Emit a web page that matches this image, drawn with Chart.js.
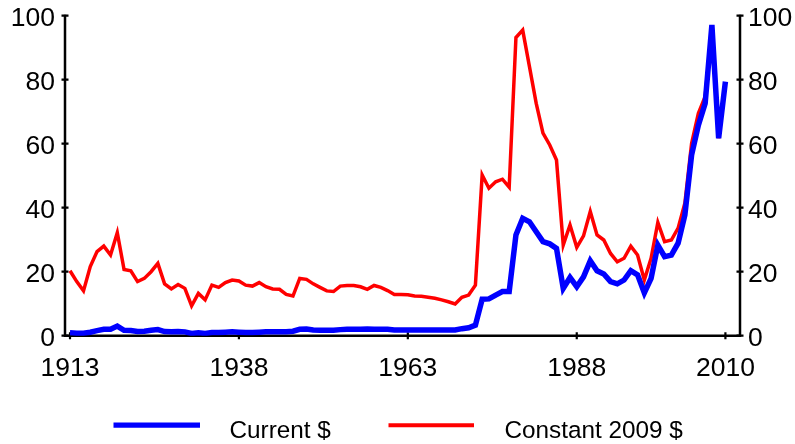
<!DOCTYPE html>
<html>
<head>
<meta charset="utf-8">
<script src="https://cdn.jsdelivr.net/npm/chart.js@4"></script>
<style>
html,body{margin:0;padding:0;background:#fff;}
canvas{display:block;}
</style>
</head>
<body>
<canvas id="c" width="795" height="444"></canvas>
<script>
// ---- data ----
const firstYear = 1913;
const currentDollars = [
  0.9, 0.8, 0.8, 1.1, 1.6, 2.0, 2.0, 3.0, 1.7, 1.6,   // 1913-1922
  1.3, 1.4, 1.7, 1.9, 1.3, 1.2, 1.3, 1.2, 0.7, 0.9,   // 1923-1932
  0.7, 1.0, 1.0, 1.1, 1.2, 1.1, 1.0, 1.0, 1.1, 1.2,   // 1933-1942
  1.2, 1.2, 1.2, 1.4, 2.0, 2.1, 1.8, 1.7, 1.7, 1.7,   // 1943-1952
  1.9, 2.0, 2.0, 2.0, 2.1, 2.0, 2.0, 2.0, 1.8, 1.8,   // 1953-1962
  1.8, 1.8, 1.8, 1.8, 1.8, 1.8, 1.8, 1.8, 2.2, 2.5,   // 1963-1972
  3.3, 11.4, 11.5, 12.7, 13.8, 13.8, 31.5, 36.7, 35.6, 32.5, // 1973-1982
  29.4, 28.7, 27.3, 14.8, 18.2, 15.3, 18.4, 23.4, 20.3, 19.3, // 1983-1992
  16.9, 16.2, 17.4, 20.3, 19.0, 13.4, 17.9, 28.3, 24.7, 25.2, // 1993-2002
  28.9, 37.7, 56.5, 65.8, 72.6, 97.1, 61.7, 79.4             // 2003-2010
];
const constant2009Dollars = [
  20.3, 16.9, 14.0, 21.6, 26.3, 28.0, 25.2, 32.2, 20.7, 20.3, // 1913-1922
  16.9, 17.9, 20.0, 22.6, 16.2, 14.6, 16.0, 14.8, 9.3, 13.2,  // 1923-1932
  11.2, 15.8, 15.1, 16.6, 17.4, 17.1, 15.8, 15.5, 16.6, 15.3, // 1933-1942
  14.6, 14.5, 12.9, 12.4, 17.9, 17.6, 16.2, 15.1, 14.0, 13.8, // 1943-1952
  15.5, 15.7, 15.7, 15.3, 14.5, 15.7, 15.1, 14.1, 12.9, 12.9, // 1953-1962
  12.8, 12.4, 12.3, 12.0, 11.7, 11.2, 10.6, 9.9, 12.0, 12.7,  // 1963-1972
  15.8, 50.2, 46.1, 48.1, 48.9, 46.4, 93.2, 95.5, 84.1, 72.6, // 1973-1982
  63.3, 59.6, 54.9, 28.3, 34.6, 27.6, 31.2, 38.8, 31.5, 29.9, // 1983-1992
  25.7, 23.1, 24.2, 28.0, 25.2, 17.4, 24.2, 35.4, 29.4, 29.9, // 1993-2002
  33.6, 41.4, 60.1, 69.5, 74.7, 96.3, 61.7, 78.9             // 2003-2010
];
const years = currentDollars.map((_, i) => firstYear + i);
const xTickYears = [1913, 1938, 1963, 1988, 2010];
const yTickValues = [0, 10, 20, 30, 40, 50, 60, 70, 80, 90, 100];
const seriesLabels = ['Current $', 'Constant 2009 $'];

// ---- plugins ----
const FONT = '"Liberation Sans", Arial, sans-serif';
const axesPlugin = {
  id: 'axesPlugin',
  beforeDatasetsDraw(chart) {
    const ctx = chart.ctx;
    const {left, right, top, bottom} = chart.chartArea;
    const {x, y, y2} = chart.scales;
    ctx.save();
    ctx.strokeStyle = '#000';
    ctx.lineWidth = 2.5;
    ctx.lineCap = 'butt';
    ctx.beginPath();
    ctx.moveTo(left, top - 1); ctx.lineTo(left, bottom);
    ctx.moveTo(left - 1.25, bottom); ctx.lineTo(right + 1.25, bottom);
    ctx.moveTo(right, bottom); ctx.lineTo(right, top - 1);
    ctx.stroke();
    ctx.lineWidth = 2.2;
    ctx.beginPath();
    y.ticks.forEach(t => {
      const p = y.getPixelForValue(t.value);
      ctx.moveTo(left - 3.5, p); ctx.lineTo(left + 3.5, p);
    });
    y2.ticks.forEach(t => {
      const p = y2.getPixelForValue(t.value);
      ctx.moveTo(right - 3.5, p); ctx.lineTo(right + 3.5, p);
    });
    x.ticks.forEach(t => {
      const p = x.getPixelForValue(t.value);
      ctx.moveTo(p, bottom - 3.5); ctx.lineTo(p, bottom + 3.5);
    });
    ctx.stroke();
    ctx.restore();
  }
};

const legendPlugin = {
  id: 'legendPlugin',
  afterDraw(chart) {
    const ctx = chart.ctx;
    const items = [
      {ds: chart.data.datasets[0], x0: 113.5, x1: 200, tx: 229.5, w: 5.3},
      {ds: chart.data.datasets[1], x0: 388.5, x1: 474, tx: 504.5, w: 4}
    ];
    const ly = 425.2;
    ctx.save();
    items.forEach(it => {
      ctx.strokeStyle = it.ds.borderColor;
      ctx.lineWidth = it.w;
      ctx.lineCap = 'butt';
      ctx.beginPath();
      ctx.moveTo(it.x0, ly); ctx.lineTo(it.x1, ly);
      ctx.stroke();
      ctx.fillStyle = '#000';
      ctx.font = '24.3px ' + FONT;
      ctx.textBaseline = 'alphabetic';
      ctx.textAlign = 'left';
      ctx.fillText(it.ds.label, it.tx, 438);
    });
    ctx.restore();
  }
};

const tickFont = {family: FONT, size: 26.5};

new Chart(document.getElementById('c'), {
  type: 'line',
  data: {
    datasets: [
      {
        label: seriesLabels[0],
        data: years.map((yr, i) => ({x: yr, y: currentDollars[i]})),
        borderColor: '#0000ff',
        backgroundColor: '#0000ff',
        borderWidth: 5.5,
        pointRadius: 0,
        tension: 0,
        yAxisID: 'y'
      },
      {
        label: seriesLabels[1],
        data: years.map((yr, i) => ({x: yr, y: constant2009Dollars[i]})),
        borderColor: '#ff0000',
        backgroundColor: '#ff0000',
        borderWidth: 3.5,
        pointRadius: 0,
        tension: 0,
        yAxisID: 'y'
      }
    ]
  },
  options: {
    responsive: false,
    animation: false,
    layout: {padding: {top: 15.7, left: 0, right: 0, bottom: 0}},
    plugins: {legend: {display: false}, tooltip: {enabled: false}},
    scales: {
      x: {
        type: 'linear',
        min: 1912.26,
        max: 2012.16,
        grid: {display: false, drawTicks: false},
        border: {display: false},
        afterBuildTicks: s => { s.ticks = xTickYears.map(v => ({value: v})); },
        ticks: {
          autoSkip: false,
          maxRotation: 0,
          padding: 17,
          color: '#000',
          font: tickFont,
          callback: v => String(v)
        },
        afterFit: s => { s.height = 108.3; s.paddingLeft = 0; s.paddingRight = 0; }
      },
      y: {
        position: 'left',
        min: 0, max: 100,
        grid: {display: false, drawTicks: false},
        border: {display: false},
        afterBuildTicks: s => { s.ticks = yTickValues.map(v => ({value: v})); },
        ticks: {
          padding: 10,
          labelOffset: 3,
          color: '#000',
          font: tickFont,
          callback: v => (v % 20 === 0 ? String(v) : '')
        },
        afterFit: s => { s.width = 65; s.paddingTop = 0; s.paddingBottom = 0; }
      },
      y2: {
        position: 'right',
        min: 0, max: 100,
        grid: {display: false, drawTicks: false},
        border: {display: false},
        afterBuildTicks: s => { s.ticks = yTickValues.map(v => ({value: v})); },
        ticks: {
          padding: 8,
          labelOffset: 3,
          color: '#000',
          font: tickFont,
          callback: v => (v % 20 === 0 ? String(v) : '')
        },
        afterFit: s => { s.width = 55; s.paddingTop = 0; s.paddingBottom = 0; }
      }
    }
  },
  plugins: [axesPlugin, legendPlugin]
});
</script>
</body>
</html>
